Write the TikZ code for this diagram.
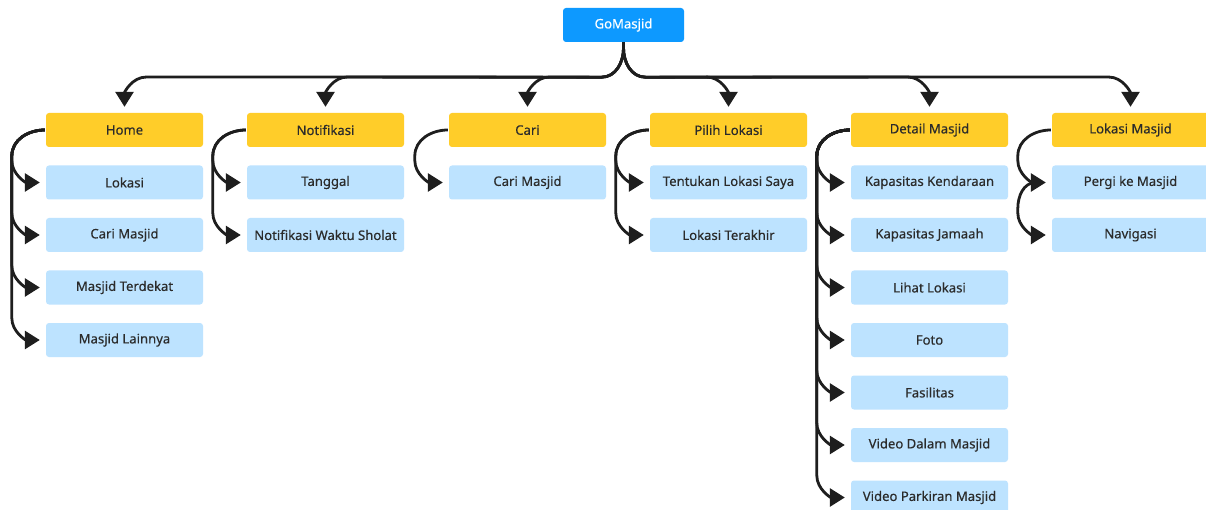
\documentclass[tikz,border=0pt]{standalone}
\usepackage{fontspec}
\setmainfont{Noto Sans}
\newfontfamily\labelfont{Noto Sans}[FakeBold=0.35]
\usetikzlibrary{arrows.meta}
\definecolor{rootblue}{HTML}{0D99FF}
\definecolor{catyellow}{HTML}{FFCD29}
\definecolor{itemblue}{HTML}{BDE3FF}
\definecolor{inkline}{HTML}{1E1E1E}
\definecolor{textdark}{HTML}{2B2B2B}

\begin{document}
\begin{tikzpicture}[x=1pt,y=-1pt,
  box/.style={minimum width=157pt,minimum height=34pt,inner sep=0pt,
    rounded corners=3pt,font=\labelfont\fontsize{13.1}{15}\selectfont},
  root/.style={box,fill=rootblue,text=white,minimum width=121pt},
  cat/.style={box,fill=catyellow,text=textdark},
  item/.style={box,fill=itemblue,text=textdark},
  link/.style={draw=inkline,line width=2.8pt,
    -{Triangle[length=15pt,width=18pt]}},
]
\useasboundingbox (0,0) rectangle (1206,510);
\fill[white] (0,0) rectangle (1206,510);

% root
\node[root] (gm) at (623.5,25) {GoMasjid};

% categories
\node[cat] (home) at (124.5,130) {Home};
\node[cat] (notif) at (325.5,130) {Notifikasi};
\node[cat] (cari) at (527.5,130) {Cari};
\node[cat] (pilih) at (728.5,130) {Pilih Lokasi};
\node[cat] (detail) at (929.5,130) {Detail Masjid};
\node[cat] (lokasi) at (1130.5,130) {Lokasi Masjid};

% Home items
\node[item] (h1) at (124.5,182.5) {Lokasi};
\node[item] (h2) at (124.5,235) {Cari Masjid};
\node[item] (h3) at (124.5,287.5) {Masjid Terdekat};
\node[item] (h4) at (124.5,340) {Masjid Lainnya};

% Notifikasi items
\node[item] (n1) at (325.5,182.5) {Tanggal};
\node[item] (n2) at (325.5,235) {Notifikasi Waktu Sholat};

% Cari items
\node[item] (c1) at (527.5,182.5) {Cari Masjid};

% Pilih Lokasi items
\node[item] (p1) at (728.5,182.5) {Tentukan Lokasi Saya};
\node[item] (p2) at (728.5,235) {Lokasi Terakhir};

% Detail Masjid items
\node[item] (d1) at (929.5,182.5) {Kapasitas Kendaraan};
\node[item] (d2) at (929.5,235) {Kapasitas Jamaah};
\node[item] (d3) at (929.5,287.5) {Lihat Lokasi};
\node[item] (d4) at (929.5,340) {Foto};
\node[item] (d5) at (929.5,392.5) {Fasilitas};
\node[item] (d6) at (929.5,445) {Video Dalam Masjid};
\node[item] (d7) at (929.5,497.5) {Video Parkiran Masjid};

% Lokasi Masjid items
\node[item] (l1) at (1130.5,182.5) {Pergi ke Masjid};
\node[item] (l2) at (1130.5,235) {Navigasi};

% root to categories: split below the root, run along y=77, bend down
\foreach \c/\s in {home/-1,notif/-1,cari/-1,pilih/1,detail/1,lokasi/1}
  \draw[link] (gm.south) -- ++(0,6)
    to[out=-90,in=180+90*(1-\s)] ++(22*\s,29)
    -- ([xshift=-22pt*\s]\c.north |- 0,77)
    to[out=90-90*\s,in=90] ([yshift=6pt]\c.north);

% categories to items: curve off the left edge, trunk, curve into the item
\foreach \p/\c in {home/h1,home/h2,home/h3,home/h4,
                   notif/n1,notif/n2,
                   cari/c1,
                   pilih/p1,pilih/p2,
                   detail/d1,detail/d2,detail/d3,detail/d4,detail/d5,detail/d6,detail/d7}
  \draw[link] ([xshift=-1pt]\p.west) to[out=180,in=90] ++(-33,26)
    -- ([xshift=-34pt,yshift=22pt]\c.west)
    to[out=-90,in=180] ([xshift=-6pt]\c.west);

% Lokasi Masjid: chained branches
\draw[link] ([xshift=-1pt]lokasi.west) to[out=180,in=90] ++(-33,26)
  -- ([xshift=-34pt,yshift=22pt]l1.west)
  to[out=-90,in=180] ([xshift=-6pt]l1.west);
\draw[link] ([xshift=-16pt]l1.west) to[out=180,in=90] ++(-18,26)
  -- ([xshift=-34pt,yshift=22pt]l2.west)
  to[out=-90,in=180] ([xshift=-6pt]l2.west);
\end{tikzpicture}
\end{document}
